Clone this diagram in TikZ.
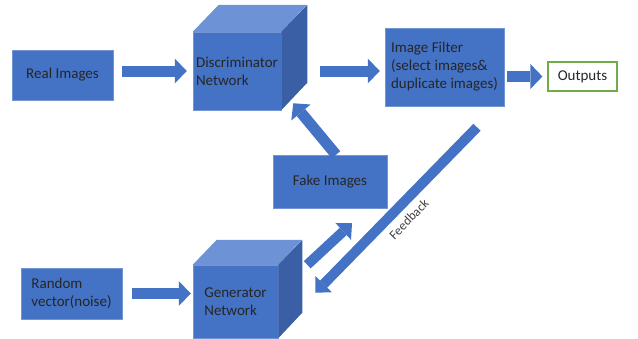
\documentclass[tikz,border=0pt]{standalone}
\usepackage{fontspec}
\setmainfont{Carlito}
\usetikzlibrary{arrows.meta,calc}
\definecolor{boxblue}{HTML}{4472C4}
\definecolor{cubetopblue}{HTML}{6E92D6}
\definecolor{cubesideblue}{HTML}{3A5FA5}
\definecolor{outgreen}{HTML}{70AD47}
\definecolor{labelgray}{HTML}{404040}

\begin{document}
\begin{tikzpicture}[x=1pt, y=-1pt,
  every node/.style={font=\fontsize{15}{18}\selectfont, text=black!85, inner sep=0pt, align=left},
  bluebox/.style={rectangle, fill=boxblue, draw=boxblue!75!white, line width=0.5pt},
  greenbox/.style={rectangle, fill=white, draw=outgreen, line width=1.2pt},
  cubetop/.style={fill=cubetopblue},
  cubeside/.style={fill=cubesideblue},
  fatarrow/.style={draw=boxblue, line width=11pt, -{Triangle[length=12pt, width=25pt, line width=0pt]}},
  thinarrow/.style={draw=boxblue, line width=10pt, -{Triangle[length=12pt, width=23pt, line width=0pt]}}
]
\useasboundingbox (0,0) rectangle (638,338);

% boxes
\node[bluebox, minimum width=101pt, minimum height=50pt] (real) at (62.5,75) {Real Images};
\node[bluebox, minimum width=88pt, minimum height=78pt] (disc) at (237,71) {Discriminator\\Network};
\node[bluebox, minimum width=119pt, minimum height=78pt] (filter) at (444.5,67) {Image Filter\\(select images\&\\duplicate images)};
\node[greenbox, minimum width=69pt, minimum height=29pt] (out) at (582.5,76.5) {Outputs};
\node[bluebox, minimum width=114pt, minimum height=53pt] (fake) at (330,181.5) {Fake Images};
\node[bluebox, minimum width=101pt, minimum height=51pt] (rand) at (71.5,293.5) {Random\\vector(noise)};
\node[bluebox, minimum width=85pt, minimum height=73pt] (gen) at (235.5,301.5) {Generator\\Network};

% cube faces
\fill[cubetop] (disc.north west) -- ++(26,-27) -- ++(88,0) -- (disc.north east) -- cycle;
\fill[cubeside] (disc.north east) -- ++(26,-27) -- ++(0,78) -- (disc.south east) -- cycle;
\fill[cubetop] (gen.north west) -- ++(24,-25) -- ++(85,0) -- (gen.north east) -- cycle;
\fill[cubeside] (gen.north east) -- ++(24,-25) -- ++(0,73) -- (gen.south east) -- cycle;

% arrows
\draw[fatarrow, shorten <=9pt, shorten >=6pt] (disc.west -| real.east) -- (disc.west);
\draw[fatarrow, shorten <=39pt, shorten >=5pt] (disc.east) -- (disc.east -| filter.west);
\draw[fatarrow, shorten <=3pt, shorten >=5pt] (out.west -| filter.east) -- (out.west);
\draw[fatarrow, shorten <=10pt, shorten >=2pt] (rand.east) -- (rand.east -| gen.west);
\draw[fatarrow] ([shift={(6,0)}]fake.north) -- ([shift={(12,-7)}]disc.south east);
\draw[thinarrow] ([shift={(29,0)}]gen.north east) -- ([shift={(22,15)}]fake.south);
\draw[thinarrow] ([shift={(32.5,21)}]filter.south) -- node[sloped, below=6pt, pos=0.49, font=\fontsize{13}{15}\selectfont, text=labelgray] {Feedback} ([shift={(37,28)}]gen.north east);
\end{tikzpicture}
\end{document}
